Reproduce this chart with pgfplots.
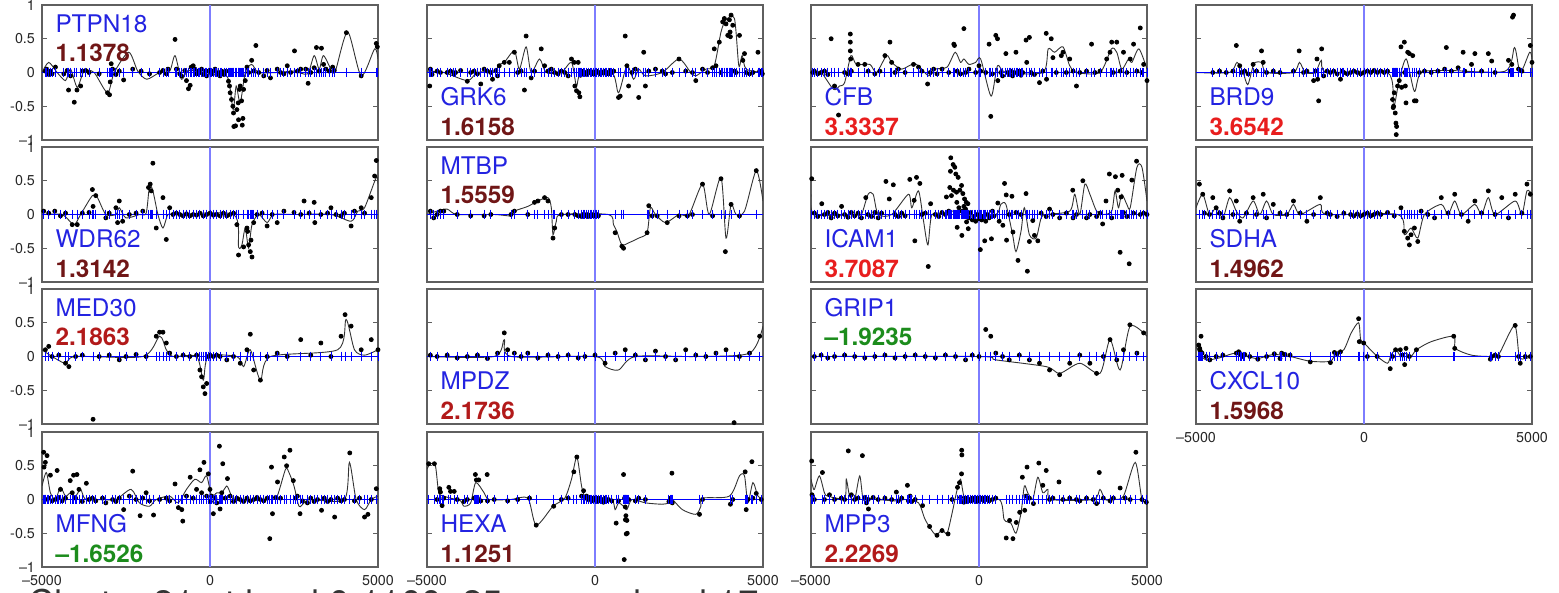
\documentclass[border=0pt]{standalone}
\usepackage{fontspec}
\setmainfont{TeX Gyre Heros}
\usepackage{pgfplots}
\usepackage{pgfplotstable}
\pgfplotsset{compat=1.18}

\definecolor{gname}{RGB}{35,35,225}
\definecolor{vdark}{RGB}{112,22,22}
\definecolor{vmid}{RGB}{178,26,26}
\definecolor{vbright}{RGB}{232,30,30}
\definecolor{vgreen}{RGB}{28,140,28}
\definecolor{frame}{RGB}{95,95,95}
\definecolor{zline}{RGB}{125,125,255}

% ---------- data (dots) and smoothed curves ----------
\pgfplotstableread[row sep=\\]{x y\\
-4900 0.02\\-4860 0.05\\-4800 -0.03\\-4750 0.02\\-4700 -0.02\\-4600 0.08\\-4350 -0.02\\-4250 0.03\\-4210 -0.26\\-4150 -0.05\\-4040 -0.44\\-3960 -0.26\\-3850 -0.2\\-3800 0.02\\-3700 0.03\\-3600 0.0\\-3300 -0.02\\-3050 -0.3\\-2990 -0.33\\-2970 -0.14\\-2940 0.13\\-2900 0.05\\-2800 -0.03\\-2700 0.02\\-2570 -0.11\\-2300 0.05\\-2050 0.02\\-1800 -0.02\\-1500 0.0\\-1400 0.03\\-1300 -0.02\\-1250 0.05\\-1040 0.49\\-1000 0.05\\-900 -0.02\\-850 -0.05\\-750 0.03\\-700 -0.12\\-640 -0.24\\-590 -0.19\\-560 0.08\\-500 0.1\\-450 0.05\\-400 -0.02\\-350 0.02\\-300 0.0\\-250 0.05\\-200 -0.03\\-150 0.02\\-100 -0.05\\-50 0.02\\0 0.03\\50 -0.02\\100 0.02\\150 0.05\\200 -0.03\\250 0.0\\300 -0.05\\350 0.02\\420 -0.03\\480 0.02\\550 -0.13\\580 -0.2\\600 -0.3\\640 -0.4\\680 -0.5\\700 -0.6\\710 -0.8\\760 -0.79\\800 -0.55\\840 -0.45\\850 -0.7\\880 -0.25\\900 -0.2\\940 -0.42\\960 -0.78\\980 -0.68\\1000 -0.25\\1050 -0.12\\1100 0.08\\1150 0.0\\1240 0.18\\1300 0.02\\1366 0.40\\1450 0.0\\1600 -0.05\\1700 0.03\\1800 -0.08\\2000 0.05\\2100 0.0\\2200 -0.02\\2300 0.1\\2400 0.0\\2515 0.32\\2600 0.02\\2700 0.05\\2850 0.05\\2920 -0.16\\3000 0.0\\3100 0.07\\3168 0.37\\3250 0.02\\3317 0.36\\3380 0.12\\3450 0.05\\3550 0.02\\3650 0.08\\3700 0.03\\4059 0.59\\4500 -0.05\\4950 0.43\\4980 0.38\\
}\dA
\pgfplotstableread[row sep=\\]{x y\\
-5000 0.0\\-4800 0.15\\-4550 0.0\\-4300 -0.12\\-4150 0.05\\-3950 -0.22\\-3750 0.02\\-3450 0.0\\-3050 -0.3\\-2850 0.0\\-2420 0.3\\-2150 0.02\\-1880 -0.1\\-1500 0.0\\-1200 0.02\\-1040 0.25\\-850 -0.1\\-650 0.03\\-200 0.0\\300 0.0\\550 -0.1\\690 -0.55\\780 -0.2\\900 -0.45\\1050 0.0\\1240 0.12\\1450 0.0\\2000 0.0\\2500 0.02\\2900 -0.02\\3100 0.25\\3250 0.05\\3380 0.25\\3650 0.0\\3750 0.05\\4100 0.6\\4500 -0.05\\4900 0.35\\5000 0.2\\
}\cA

\pgfplotstableread[row sep=\\]{x y\\
-4920 -0.2\\-4900 0.05\\-4850 -0.03\\-4700 0.02\\-4600 0.0\\-4400 0.0\\-4300 0.02\\-4200 -0.02\\-4150 0.0\\-4000 0.03\\-3800 -0.13\\-3700 0.0\\-3600 0.02\\-3500 -0.02\\-3400 -0.17\\-3300 0.05\\-3200 0.02\\-3100 0.0\\-3050 -0.1\\-2950 0.03\\-2900 -0.05\\-2850 0.1\\-2700 0.15\\-2550 0.15\\-2400 0.3\\-2300 0.0\\-2200 0.02\\-2100 -0.26\\-2050 0.54\\-1900 -0.08\\-1800 0.02\\-1600 0.35\\-1500 0.1\\-1400 0.02\\-1300 0.05\\-1200 0.0\\-1100 -0.02\\-1000 0.02\\-900 0.0\\-800 -0.05\\-700 0.2\\-620 0.15\\-600 -0.2\\-550 -0.27\\-500 0.15\\-480 -0.3\\-450 -0.36\\-430 -0.04\\-400 0.02\\-350 -0.02\\-300 0.0\\-250 -0.03\\-200 0.02\\-150 0.0\\-100 -0.02\\-50 0.01\\0 -0.02\\50 0.02\\100 0.0\\150 -0.02\\200 0.01\\250 -0.01\\300 0.02\\350 0.0\\400 -0.02\\450 0.03\\500 0.0\\560 0.02\\700 -0.37\\750 -0.35\\900 0.54\\950 0.1\\1000 -0.2\\1100 0.0\\1200 0.05\\1300 -0.37\\1450 0.3\\1500 -0.2\\1600 0.02\\1800 0.05\\2000 0.02\\2100 -0.02\\2300 0.0\\2500 0.2\\2700 0.02\\2900 0.0\\3000 -0.12\\3200 0.05\\3350 0.0\\3500 0.07\\3550 0.35\\3600 0.1\\3700 0.45\\3750 0.0\\3800 0.75\\3850 0.8\\3900 0.72\\3950 0.55\\4000 0.78\\4020 0.6\\4030 0.53\\4050 0.85\\4100 0.7\\4150 0.02\\4200 0.0\\4300 0.55\\4400 0.18\\4450 0.28\\4500 0.0\\4600 -0.02\\4700 0.0\\4850 0.3\\4900 0.02\\4950 0.02\\4980 -0.02\\
}\dB
\pgfplotstableread[row sep=\\]{x y\\
-5000 0.02\\-4500 0.0\\-3800 -0.12\\-3500 0.0\\-3000 0.02\\-2850 0.12\\-2700 0.15\\-2400 0.32\\-2250 0.05\\-2050 0.38\\-1900 0.0\\-1650 0.2\\-1450 0.0\\-1000 0.0\\-700 0.15\\-550 -0.2\\-400 0.0\\500 0.0\\700 -0.3\\950 0.1\\1150 -0.1\\1300 0.05\\1500 -0.05\\2000 0.0\\2500 0.2\\2850 0.0\\3000 -0.05\\3300 0.05\\3550 0.1\\3750 0.6\\3900 0.78\\4150 0.8\\4280 0.1\\4380 0.25\\4500 0.05\\5000 0.0\\
}\cB

\pgfplotstableread[row sep=\\]{x y\\
-4950 0.0\\-4900 0.02\\-4800 -0.02\\-4700 0.0\\-4600 0.02\\-4500 -0.03\\-4400 0.5\\-4300 -0.2\\-4180 -0.63\\-4000 0.0\\-3900 -0.02\\-3830 0.57\\-3830 0.45\\-3830 0.32\\-3820 0.2\\-3800 0.02\\-3600 0.12\\-3400 0.12\\-3300 0.02\\-3100 -0.02\\-2950 0.02\\-2800 0.25\\-2650 0.45\\-2600 0.15\\-2500 0.0\\-2400 0.05\\-2200 0.0\\-1950 0.12\\-1800 0.08\\-1700 0.02\\-1530 -0.17\\-1450 0.0\\-1350 0.05\\-1250 -0.02\\-1100 0.05\\-900 0.0\\-750 0.42\\-730 0.4\\-650 0.02\\-550 -0.02\\-450 0.65\\-400 0.0\\-300 0.05\\-100 0.0\\0 0.1\\50 0.02\\200 0.0\\300 0.42\\350 -0.65\\400 -0.02\\500 0.55\\550 0.5\\560 -0.12\\650 0.0\\700 -0.05\\800 0.28\\850 0.0\\900 -0.03\\950 0.02\\1000 -0.05\\1050 0.0\\1100 0.3\\1150 -0.02\\1200 0.02\\1250 -0.04\\1300 0.0\\1400 0.48\\1420 0.15\\1500 0.52\\1550 0.0\\1650 -0.03\\1800 -0.15\\1900 0.02\\2000 0.58\\2010 -0.1\\2150 0.5\\2200 0.22\\2300 0.0\\2450 0.25\\2500 0.3\\2600 0.0\\2700 0.2\\2800 0.02\\2900 -0.2\\3000 0.0\\3200 0.02\\3350 0.42\\3450 0.0\\3600 0.02\\3800 0.2\\3900 0.3\\3950 0.45\\4000 0.0\\4100 0.45\\4200 0.02\\4300 0.3\\4400 0.0\\4500 0.2\\4600 0.42\\4700 0.02\\4800 0.66\\4850 0.0\\4900 0.12\\5000 -0.12\\
}\dC
\pgfplotstableread[row sep=\\]{x y\\
-5000 0.0\\-4700 0.0\\-4330 -0.25\\-4150 -0.2\\-4000 -0.15\\-3810 0.25\\-3650 0.12\\-3250 0.12\\-3050 0.0\\-2750 0.25\\-2600 0.15\\-2300 0.05\\-1900 0.13\\-1500 -0.05\\-1300 0.05\\-950 0.08\\-710 0.3\\-550 0.15\\-450 0.2\\-300 0.12\\-100 0.15\\50 0.2\\360 -0.35\\550 0.1\\800 0.0\\1900 0.0\\2060 0.35\\2250 0.3\\2500 0.38\\2700 0.1\\2900 0.0\\3600 0.0\\3940 0.35\\4100 0.3\\4250 0.05\\4450 0.2\\4550 0.15\\4760 0.35\\5000 0.05\\
}\cC

\pgfplotstableread[row sep=\\]{x y\\
-4500 0.0\\-4300 0.02\\-4100 0.0\\-3900 0.02\\-3800 0.4\\-3700 0.1\\-3650 0.0\\-3550 0.02\\-3450 -0.02\\-3300 0.12\\-3200 0.02\\-3050 0.32\\-3000 0.15\\-2900 0.0\\-2700 0.02\\-2500 0.0\\-2100 0.02\\-1930 0.32\\-1800 0.0\\-1700 0.02\\-1500 -0.12\\-1450 0.02\\-1400 0.2\\-1380 -0.1\\-1350 -0.42\\-1260 0.35\\-1200 -0.05\\-1100 0.02\\-1000 0.0\\-900 0.02\\-800 -0.02\\-700 -0.1\\-650 0.02\\-600 0.0\\-500 -0.02\\-400 0.0\\-300 0.02\\-200 0.0\\-100 -0.02\\0 0.0\\100 0.02\\200 0.0\\300 0.03\\400 0.0\\500 0.02\\600 0.0\\700 0.02\\850 -0.4\\870 -0.52\\880 -0.5\\900 -0.3\\930 -0.6\\950 -0.75\\960 -0.92\\970 -0.8\\1000 -0.2\\1050 -0.12\\1100 0.38\\1120 -0.22\\1200 0.45\\1210 0.0\\1230 -0.2\\1250 -0.45\\1300 0.3\\1350 0.28\\1450 0.25\\1500 -0.42\\1550 -0.42\\1650 0.0\\1800 0.02\\2000 0.0\\2200 0.02\\2400 0.05\\2450 0.37\\2600 0.02\\2800 0.07\\2950 0.3\\3000 0.02\\3200 0.12\\3300 0.28\\3500 0.02\\3700 0.28\\3800 0.17\\3900 0.0\\4300 0.18\\4350 0.02\\4400 0.12\\4420 0.82\\4450 0.85\\4600 0.05\\4700 0.02\\4950 0.4\\5000 0.15\\
}\dD
\pgfplotstableread[row sep=\\]{x y\\
-5000 0.0\\-4000 0.0\\-3780 0.15\\-3600 0.0\\-3460 -0.18\\-3300 0.1\\-3230 0.15\\-3050 0.15\\-2900 0.0\\-2100 0.0\\-1920 0.15\\-1750 0.0\\-1450 0.0\\-1270 0.18\\-1100 0.0\\700 0.0\\880 -0.5\\1050 -0.1\\1260 0.2\\1500 -0.28\\1700 0.0\\2500 0.03\\4200 0.02\\4480 0.37\\4650 0.0\\4930 0.3\\5000 0.2\\
}\cD

\pgfplotstableread[row sep=\\]{x y\\
-4950 0.05\\-4800 0.02\\-4620 0.05\\-4450 -0.02\\-4300 0.02\\-4100 -0.15\\-3950 -0.15\\-3800 0.02\\-3600 0.03\\-3500 0.37\\-3480 0.12\\-3400 0.28\\-3100 -0.05\\-3000 0.02\\-2800 0.1\\-2750 -0.12\\-2700 0.2\\-2600 -0.1\\-2400 0.0\\-2200 0.02\\-2000 0.05\\-1830 0.4\\-1780 0.45\\-1750 0.35\\-1700 0.76\\-1600 -0.2\\-1400 0.25\\-1300 -0.37\\-1200 0.1\\-1100 0.0\\-1000 0.02\\-900 0.0\\-800 -0.02\\-700 0.01\\-600 -0.02\\-500 0.0\\-400 -0.01\\-300 0.02\\-200 -0.02\\-100 0.0\\0 0.02\\100 -0.01\\200 0.0\\300 -0.02\\400 0.02\\500 -0.02\\600 0.0\\700 0.02\\800 -0.15\\850 -0.6\\1000 -0.48\\1100 -0.2\\1120 -0.25\\1150 -0.45\\1200 -0.55\\1220 -0.38\\1250 -0.63\\1300 -0.12\\1400 0.0\\1550 0.02\\1700 -0.17\\1850 0.0\\2000 -0.12\\2200 0.05\\2500 0.03\\2700 0.0\\2800 0.2\\2950 0.02\\3100 0.18\\3120 -0.12\\3300 0.0\\3500 0.02\\3600 0.1\\3750 0.0\\3900 -0.02\\4000 0.02\\4200 -0.17\\4300 0.05\\4500 0.1\\4600 0.02\\4800 0.25\\4900 0.57\\4950 0.8\\
}\dE
\pgfplotstableread[row sep=\\]{x y\\
-5000 0.0\\-4400 0.0\\-4050 -0.15\\-3850 0.0\\-3500 0.28\\-3350 0.25\\-3100 0.0\\-2800 0.0\\-2700 0.1\\-2500 -0.05\\-2100 0.0\\-1900 0.02\\-1800 0.42\\-1700 0.35\\-1550 0.0\\-1400 -0.2\\-1250 0.0\\-1000 0.0\\700 0.0\\850 -0.48\\950 -0.45\\1050 -0.2\\1150 -0.5\\1250 -0.15\\1450 0.0\\1700 -0.12\\1900 0.0\\2500 0.0\\3600 0.0\\4200 -0.1\\4400 0.05\\4600 0.1\\4950 0.55\\5000 0.45\\
}\cE

\pgfplotstableread[row sep=\\]{x y\\
-4900 0.05\\-4800 -0.05\\-4700 0.0\\-4600 0.05\\-4500 0.05\\-4100 0.0\\-3700 -0.02\\-3300 -0.02\\-3100 0.0\\-2500 0.0\\-2400 0.05\\-2000 0.0\\-1800 0.18\\-1700 0.2\\-1500 0.25\\-1400 0.2\\-1250 -0.35\\-1200 -0.2\\-1000 0.0\\-800 0.0\\-600 0.0\\-500 -0.02\\-400 -0.03\\-350 0.0\\-300 -0.02\\-250 0.0\\-200 -0.03\\-150 -0.01\\-100 0.0\\-50 -0.02\\0 -0.01\\50 0.0\\100 -0.02\\600 -0.27\\800 -0.47\\850 -0.5\\1550 -0.27\\1600 0.13\\1700 -0.02\\1850 -0.02\\2150 -0.12\\2500 -0.02\\2750 -0.02\\2900 0.0\\3200 0.45\\3500 -0.02\\3750 0.53\\3880 -0.55\\4050 0.15\\4300 -0.02\\4800 0.65\\
}\dF
\pgfplotstableread[row sep=\\]{x y\\
-5000 0.0\\-4700 0.05\\-4400 0.08\\-4100 0.0\\-3000 0.0\\-2500 -0.02\\-2400 0.05\\-2000 0.12\\-1700 0.2\\-1400 0.25\\-1300 0.1\\-1250 -0.3\\-1150 -0.1\\-1000 0.0\\400 0.0\\550 -0.15\\650 -0.25\\800 -0.45\\1000 -0.42\\1300 -0.35\\1550 -0.27\\1650 0.1\\1800 0.0\\2100 -0.12\\2500 0.0\\2800 0.0\\3200 0.45\\3400 0.0\\3750 0.55\\3900 -0.35\\4050 0.15\\4200 0.0\\4450 0.05\\4800 0.65\\5000 0.2\\
}\cF

\pgfplotstableread[row sep=\\]{x y\\
-4980 0.53\\-4900 0.02\\-4800 -0.03\\-4680 0.16\\-4600 0.0\\-4500 0.03\\-4400 -0.05\\-4300 0.02\\-4200 -0.02\\-4090 0.12\\-4000 0.0\\-3900 -0.04\\-3800 0.03\\-3700 -0.02\\-3600 0.02\\-3500 -0.05\\-3370 0.25\\-3300 0.0\\-3200 -0.03\\-3100 0.03\\-3000 -0.05\\-2900 0.02\\-2770 0.49\\-2670 0.23\\-2550 0.44\\-2500 0.0\\-2400 -0.03\\-2300 0.02\\-2200 -0.02\\-2060 0.52\\-1930 0.21\\-1910 -0.39\\-1860 0.55\\-1760 0.46\\-1700 0.0\\-1600 0.02\\-1510 -0.77\\-1440 0.16\\-1300 0.0\\-1200 -0.03\\-1100 0.03\\-1000 0.0\\-970 0.26\\-900 0.05\\-870 0.4\\-850 0.64\\-840 0.84\\-820 0.28\\-770 0.74\\-760 0.36\\-720 0.7\\-690 0.6\\-670 0.33\\-660 0.18\\-650 -0.19\\-620 0.55\\-600 0.1\\-570 0.36\\-520 0.43\\-510 -0.31\\-500 0.05\\-480 0.31\\-450 0.12\\-430 0.23\\-400 0.08\\-380 0.18\\-370 -0.11\\-350 0.02\\-330 0.16\\-320 -0.21\\-300 -0.05\\-250 0.03\\-200 -0.08\\-150 -0.03\\-100 -0.1\\-50 0.0\\0 -0.06\\40 -0.52\\80 -0.08\\120 -0.03\\170 -0.39\\200 -0.1\\250 0.0\\300 -0.05\\370 -0.36\\400 0.05\\450 -0.02\\560 0.17\\600 -0.1\\710 -0.16\\760 0.46\\810 0.29\\820 -0.38\\900 0.0\\980 0.27\\1010 -0.26\\1100 0.03\\1160 -0.68\\1250 0.0\\1400 0.31\\1440 -0.84\\1500 -0.4\\1600 -0.09\\1650 -0.31\\1750 -0.39\\1850 0.02\\2000 -0.03\\2100 0.08\\2200 0.0\\2400 -0.05\\2600 0.02\\2790 0.36\\2800 -0.05\\2900 0.0\\3090 0.5\\3200 -0.05\\3300 0.0\\3500 -0.03\\3600 0.02\\3680 -0.14\\3780 0.2\\3880 0.6\\3950 -0.05\\4060 0.56\\4130 0.36\\4200 -0.56\\4230 0.26\\4260 0.58\\4300 0.03\\4400 -0.03\\4470 -0.73\\4550 0.51\\4600 0.02\\4690 0.79\\4800 0.0\\4900 0.02\\5000 0.0\\
}\dG
\pgfplotstableread[row sep=\\]{x y\\
-5000 0.3\\-4900 0.0\\-3700 0.0\\-3500 0.0\\-3300 0.3\\-3150 0.3\\-3000 0.0\\-2600 0.0\\-2100 0.3\\-2000 0.1\\-1800 0.35\\-1650 -0.1\\-1520 -0.45\\-1400 0.0\\-1000 0.0\\-800 0.05\\-500 0.02\\-300 -0.02\\500 0.0\\650 0.15\\800 0.15\\1000 -0.3\\1100 -0.55\\1250 -0.25\\1350 0.1\\1500 -0.3\\1700 -0.35\\1850 -0.05\\2000 0.0\\2700 0.05\\2850 0.3\\3000 0.0\\3150 0.45\\3300 0.3\\3500 0.05\\3700 0.0\\3950 0.05\\4050 0.35\\4150 0.1\\4250 0.3\\4400 0.15\\4500 0.1\\4700 0.7\\4850 0.7\\5000 0.2\\
}\cG

\pgfplotstableread[row sep=\\]{x y\\
-4900 0.45\\-4800 0.3\\-4750 0.02\\-4600 0.0\\-4500 0.25\\-4400 0.1\\-4300 0.02\\-4200 -0.05\\-4000 0.35\\-3900 0.0\\-3800 0.2\\-3700 -0.1\\-3500 0.02\\-3300 0.25\\-3200 0.0\\-3000 0.3\\-2900 -0.05\\-2700 0.15\\-2500 0.02\\-2300 0.0\\-2100 0.2\\-1900 0.02\\-1700 -0.1\\-1500 0.0\\-1300 0.25\\-1100 0.02\\-1000 0.0\\-800 -0.03\\-600 0.02\\-400 0.0\\-300 -0.02\\-200 0.01\\-100 -0.02\\0 0.0\\100 0.02\\200 -0.02\\300 0.0\\400 0.02\\500 0.0\\700 0.03\\900 -0.02\\1100 0.1\\1200 -0.25\\1300 -0.35\\1350 -0.45\\1400 -0.3\\1500 -0.2\\1600 -0.4\\1700 0.05\\1900 0.0\\2100 -0.05\\2300 0.25\\2500 0.02\\2700 0.3\\2900 0.0\\3100 -0.1\\3300 0.2\\3500 0.02\\3700 0.35\\3900 0.0\\4100 0.25\\4300 -0.05\\4500 0.3\\4700 0.02\\4850 0.45\\4950 0.3\\
}\dH
\pgfplotstableread[row sep=\\]{x y\\
-5000 0.1\\-4800 0.3\\-4600 0.0\\-4400 0.1\\-4200 -0.05\\-4000 0.25\\-3800 0.05\\-3600 -0.05\\-3300 0.2\\-3100 0.0\\-2900 0.2\\-2700 0.0\\-2300 0.0\\-2100 0.15\\-1900 0.0\\-1300 0.15\\-1100 0.0\\1000 0.0\\1200 -0.3\\1400 -0.2\\1600 -0.35\\1800 0.0\\2300 0.15\\2500 0.0\\2700 0.2\\2900 0.0\\3300 0.15\\3500 0.0\\3700 0.25\\3900 0.0\\4500 0.2\\4700 0.0\\4850 0.35\\5000 0.3\\
}\cH

\pgfplotstableread[row sep=\\]{x y\\
-4900 0.1\\-4800 0.15\\-4700 0.0\\-4500 0.02\\-4300 -0.1\\-4200 -0.15\\-4000 0.0\\-3800 0.02\\-3480 -0.93\\-3300 0.0\\-3000 0.02\\-2700 -0.05\\-2500 0.0\\-2200 0.03\\-1900 0.0\\-1600 0.3\\-1500 0.36\\-1400 0.36\\-1300 0.2\\-1200 0.05\\-1000 0.0\\-800 0.02\\-600 0.0\\-400 0.02\\-300 -0.2\\-250 -0.3\\-200 -0.45\\-150 -0.55\\-100 -0.4\\-50 0.0\\0 0.02\\100 0.0\\200 0.02\\300 0.0\\500 -0.05\\700 0.0\\900 -0.1\\1100 0.1\\1200 0.33\\1300 -0.2\\1500 -0.35\\1700 0.0\\2000 0.05\\2300 0.0\\2700 0.25\\3000 0.02\\3300 0.2\\3600 0.0\\3900 0.3\\4020 0.62\\4200 0.45\\4500 0.1\\4800 0.25\\5000 0.1\\
}\dI
\pgfplotstableread[row sep=\\]{x y\\
-5000 0.1\\-4700 0.0\\-4300 -0.1\\-4000 0.0\\-2000 0.0\\-1500 0.3\\-1300 0.1\\-1100 0.0\\-400 0.0\\-200 -0.35\\-50 0.0\\800 0.0\\1000 -0.15\\1200 0.1\\1500 -0.35\\1800 0.0\\3800 0.1\\4050 0.55\\4300 0.1\\4600 0.02\\5000 0.1\\
}\cI

\pgfplotstableread[row sep=\\]{x y\\
-4900 0.02\\-4700 0.0\\-4400 0.02\\-4100 -0.02\\-3800 0.0\\-3500 0.02\\-3200 -0.03\\-2900 0.05\\-2700 0.35\\-2600 0.1\\-2400 0.05\\-2200 0.0\\-2000 0.05\\-1700 -0.02\\-1400 0.02\\-1100 0.0\\-800 0.02\\-500 -0.02\\-300 0.0\\0 0.02\\300 -0.1\\600 0.05\\900 0.1\\1200 0.02\\1500 -0.05\\1800 0.08\\2100 0.0\\2400 -0.05\\2700 0.1\\3000 0.02\\3300 0.0\\3600 0.05\\3900 0.1\\4140 -0.98\\4300 0.0\\4600 0.05\\4900 0.3\\
}\dJ
\pgfplotstableread[row sep=\\]{x y\\
-5000 0.0\\-3000 0.0\\-2700 0.25\\-2500 0.0\\0 0.0\\300 -0.15\\700 -0.2\\1200 0.0\\3000 0.0\\4600 0.05\\5000 0.45\\
}\cJ

\pgfplotstableread[row sep=\\]{x y\\
-4900 0.0\\-4700 0.02\\-4500 -0.02\\-4300 0.0\\-4000 0.02\\-3700 0.0\\-3400 -0.02\\-3100 0.0\\-2800 0.02\\-2500 -0.02\\-2200 0.0\\-1900 0.02\\-1600 0.0\\-1300 -0.02\\-1000 0.02\\-700 0.0\\-400 -0.05\\-200 0.02\\0 0.0\\200 0.4\\350 0.3\\500 0.05\\700 0.0\\900 -0.05\\1200 0.02\\1500 -0.05\\1800 -0.1\\2100 -0.2\\2400 -0.27\\2700 -0.1\\3000 0.02\\3300 -0.1\\3500 -0.25\\3700 0.0\\3900 0.25\\4100 -0.05\\4300 0.1\\4490 0.47\\4700 0.05\\4900 0.35\\
}\dK
\pgfplotstableread[row sep=\\]{x y\\
-5000 0.0\\0 0.0\\500 -0.05\\2000 -0.15\\2400 -0.25\\3000 -0.1\\3600 -0.25\\3900 0.25\\4200 -0.2\\4500 0.45\\5000 0.3\\
}\cK

\pgfplotstableread[row sep=\\]{x y\\
-4920 0.17\\-4890 0.12\\-4850 0.3\\-4870 0.08\\-4820 0.05\\-4700 0.0\\-4590 -0.05\\-4400 0.0\\-4200 0.02\\-3800 0.05\\-3730 0.07\\-3680 0.04\\-3650 0.02\\-3600 0.0\\-3550 0.03\\-3400 0.0\\-3160 -0.04\\-2900 0.0\\-2670 0.04\\-2500 -0.03\\-2450 0.05\\-2350 0.03\\-2200 0.02\\-1600 -0.08\\-1000 -0.09\\-880 0.06\\-800 0.04\\-700 0.07\\-160 0.56\\-140 0.22\\-10 0.2\\100 0.0\\390 0.0\\780 -0.18\\850 0.0\\940 0.1\\1080 0.1\\1150 0.02\\1210 -0.12\\1250 0.12\\1350 0.0\\1560 0.1\\2670 0.3\\2700 0.12\\3760 -0.04\\3800 0.0\\3900 0.02\\4000 0.0\\4500 0.46\\4600 0.0\\4650 -0.1\\4800 0.0\\4950 0.0\\
}\dL
\pgfplotstableread[row sep=\\]{x y\\
-5000 0.15\\-4900 0.05\\-4700 -0.05\\-4300 -0.02\\-3800 0.05\\-3200 -0.03\\-2700 0.03\\-2200 0.0\\-1600 -0.07\\-1000 -0.07\\-850 0.05\\-600 0.1\\-380 0.35\\-160 0.5\\-100 0.25\\0 0.2\\400 0.0\\700 -0.1\\800 0.02\\950 0.1\\1100 0.0\\1250 0.05\\1400 0.0\\1560 0.1\\2000 0.22\\2670 0.3\\2720 0.12\\3200 0.02\\3760 0.0\\4000 0.02\\4480 0.46\\4620 0.0\\4800 -0.03\\5000 0.0\\
}\cL

\pgfplotstableread[row sep=\\]{x y\\
-4950 0.7\\-4900 0.55\\-4850 0.65\\-4940 0.48\\-4900 0.0\\-4800 0.02\\-4750 0.36\\-4700 -0.02\\-4600 0.0\\-4550 0.43\\-4500 0.03\\-4450 0.15\\-4400 -0.02\\-4300 0.02\\-4160 0.28\\-4100 0.1\\-4060 0.36\\-4000 0.02\\-3960 0.37\\-3900 0.15\\-3800 -0.03\\-3680 0.24\\-3600 0.0\\-3500 0.02\\-3400 -0.02\\-3200 0.02\\-3100 -0.05\\-2900 0.0\\-2800 -0.03\\-2700 0.02\\-2570 -0.15\\-2400 0.05\\-2300 0.42\\-2200 0.0\\-2080 -0.24\\-2000 0.02\\-1900 0.1\\-1800 -0.02\\-1680 -0.23\\-1500 0.0\\-1300 0.02\\-1200 -0.02\\-1040 0.23\\-940 -0.12\\-840 -0.15\\-810 -0.32\\-700 0.05\\-590 0.33\\-500 0.02\\-400 0.15\\-300 0.44\\-250 0.1\\-180 0.55\\-100 0.05\\-50 0.38\\0 0.15\\10 -0.03\\50 0.05\\100 -0.21\\150 0.02\\200 -0.05\\280 0.79\\300 -0.14\\350 0.1\\380 0.53\\450 0.02\\520 0.31\\600 0.05\\700 -0.03\\800 0.02\\900 0.0\\1000 -0.03\\1100 0.02\\1200 -0.02\\1300 0.0\\1400 0.03\\1500 0.0\\1600 -0.02\\1700 0.02\\1780 -0.58\\1830 0.48\\1860 -0.21\\1950 0.03\\2010 0.26\\2100 0.02\\2210 0.63\\2280 0.5\\2380 0.73\\2480 0.28\\2550 0.02\\2600 0.05\\2680 -0.21\\2750 -0.02\\2900 -0.05\\3000 0.02\\3100 -0.03\\3200 0.0\\3320 -0.16\\3400 0.02\\3500 -0.03\\3600 0.0\\3710 -0.26\\3800 0.02\\3900 -0.02\\4000 0.0\\4160 0.69\\4300 -0.02\\4450 0.02\\4600 -0.26\\4700 -0.22\\4800 0.0\\4950 0.16\\
}\dM
\pgfplotstableread[row sep=\\]{x y\\
-5000 0.2\\-4870 0.4\\-4750 0.1\\-4600 0.0\\-4450 0.18\\-4300 0.05\\-4150 0.1\\-4000 0.05\\-3850 0.15\\-3700 0.0\\-3200 0.0\\-2800 0.0\\-2350 0.15\\-2100 -0.05\\-1800 -0.1\\-1600 0.0\\-1200 0.05\\-950 -0.05\\-700 0.15\\-450 0.3\\-250 0.25\\-100 0.35\\50 0.05\\200 0.1\\350 0.1\\500 0.2\\600 0.1\\700 0.0\\1000 -0.02\\1800 0.0\\2000 0.05\\2250 0.45\\2350 0.4\\2500 0.2\\2650 -0.1\\2800 -0.05\\3000 0.0\\4000 0.0\\4150 0.55\\4350 0.0\\4600 -0.15\\4800 0.0\\5000 0.05\\
}\cM

\pgfplotstableread[row sep=\\]{x y\\
-4950 0.53\\-4780 0.53\\-4700 0.0\\-4620 0.16\\-4600 0.11\\-4550 -0.09\\-4500 0.02\\-4350 0.18\\-4300 0.12\\-4190 0.12\\-4100 0.0\\-3900 -0.03\\-3800 0.0\\-3600 0.02\\-3560 0.37\\-3530 0.29\\-3500 0.02\\-3460 0.29\\-3400 -0.02\\-3210 0.37\\-3200 -0.02\\-3000 0.0\\-2600 -0.02\\-2300 0.0\\-1950 0.02\\-1750 -0.38\\-1230 -0.1\\-1000 0.0\\-800 0.02\\-630 0.41\\-540 0.63\\-400 0.05\\-340 0.13\\-300 0.02\\-250 0.05\\-200 0.0\\-150 0.03\\-100 -0.02\\-50 0.02\\0 0.0\\50 -0.03\\100 0.02\\150 -0.02\\200 0.0\\250 -0.04\\300 0.02\\350 -0.02\\400 0.0\\500 -0.02\\630 -0.35\\700 -0.02\\850 0.37\\870 -0.89\\880 0.02\\900 -0.11\\905 -0.3\\920 -0.24\\930 -0.51\\950 -0.31\\960 -0.5\\1000 0.0\\1200 -0.02\\1300 0.02\\1500 0.0\\2200 -0.03\\2250 0.02\\2290 0.39\\2300 -0.05\\3110 -0.22\\3200 0.0\\4030 -0.07\\4100 0.0\\4470 0.41\\4500 -0.15\\4550 0.0\\4670 0.56\\4700 0.02\\4800 0.09\\4950 0.0\\
}\dN
\pgfplotstableread[row sep=\\]{x y\\
-5000 0.45\\-4900 0.53\\-4750 0.5\\-4650 0.1\\-4500 0.05\\-4300 0.02\\-4000 -0.02\\-3900 -0.1\\-3700 -0.05\\-3550 0.25\\-3300 0.1\\-3150 0.0\\-2500 0.0\\-2000 0.02\\-1750 -0.38\\-1250 -0.1\\-900 0.02\\-700 0.3\\-540 0.63\\-400 0.2\\-300 0.05\\0 0.0\\500 0.0\\600 -0.15\\700 -0.05\\850 -0.1\\950 -0.15\\1100 0.0\\1500 -0.05\\2000 -0.07\\2200 -0.05\\2300 0.0\\2600 -0.15\\3000 -0.22\\3150 -0.1\\3200 0.02\\4000 0.05\\4300 0.35\\4450 0.35\\4550 -0.05\\4700 0.25\\4850 0.05\\5000 0.0\\
}\cN

\pgfplotstableread[row sep=\\]{x y\\
-4980 0.57\\-4970 0.07\\-4900 0.0\\-4660 0.4\\-4600 0.0\\-4450 0.07\\-4300 0.0\\-4100 0.02\\-4000 0.0\\-3890 0.72\\-3800 0.07\\-3700 0.0\\-3600 0.02\\-3470 0.65\\-3400 0.03\\-3350 -0.05\\-3300 0.0\\-3290 -0.14\\-3150 0.03\\-3000 0.0\\-2800 0.02\\-2600 0.0\\-2460 0.11\\-2400 -0.02\\-2300 0.02\\-2130 0.21\\-2100 -0.02\\-2050 0.05\\-2000 -0.03\\-1900 0.0\\-1680 -0.09\\-1470 -0.4\\-1250 -0.53\\-1100 -0.46\\-920 -0.51\\-800 0.0\\-640 0.18\\-580 0.25\\-550 0.03\\-520 0.38\\-515 0.73\\-510 0.66\\-450 -0.04\\-400 0.02\\-350 -0.03\\-300 0.0\\-250 -0.02\\-200 0.02\\-150 0.0\\-100 -0.03\\-50 0.02\\0 -0.02\\50 0.0\\100 0.02\\150 -0.02\\200 0.0\\250 0.02\\300 -0.02\\400 0.0\\500 0.02\\810 -0.57\\910 -0.31\\1010 -0.58\\1110 -0.34\\1210 -0.19\\1290 0.33\\1360 -0.16\\1400 0.05\\1430 0.48\\1500 0.02\\1620 -0.06\\1780 0.54\\1900 0.21\\2000 0.43\\2100 0.0\\2200 0.02\\2380 0.26\\2500 0.0\\2700 0.02\\2900 0.0\\3000 -0.02\\3200 0.02\\3400 0.0\\3500 -0.06\\3580 0.4\\3700 0.02\\3900 -0.02\\4000 0.02\\4200 0.17\\4350 0.02\\4500 0.0\\4670 0.7\\4850 0.0\\4980 -0.04\\
}\dO
\pgfplotstableread[row sep=\\]{x y\\
-5000 0.3\\-4950 0.2\\-4900 0.15\\-4750 0.35\\-4600 0.1\\-4500 0.05\\-4000 0.02\\-3950 0.3\\-3850 0.05\\-3700 0.0\\-3550 0.35\\-3450 0.0\\-3300 0.02\\-3000 0.0\\-2500 -0.02\\-2200 0.0\\-1800 -0.05\\-1600 -0.3\\-1300 -0.52\\-1100 -0.45\\-950 -0.5\\-800 -0.2\\-650 0.15\\-550 0.3\\-450 0.05\\-300 0.0\\600 0.0\\750 -0.3\\950 -0.35\\1100 -0.5\\1250 -0.2\\1350 0.2\\1450 0.1\\1600 0.0\\1750 0.33\\1900 0.1\\2050 0.15\\2150 0.0\\3400 0.0\\3600 0.15\\3750 0.0\\4000 0.0\\4300 0.05\\4650 0.55\\4850 0.0\\5000 -0.02\\
}\cO

% ---------- styles ----------
\newcommand{\namefont}{\fontsize{12.2}{14}\selectfont}
\newcommand{\valfont}{\fontsize{12.2}{14}\selectfont\bfseries}
\pgfplotsset{
  panel/.style={anchor=north west, width=168bp, height=67.5bp, scale only axis,
    xmin=-5000, xmax=5000, ymin=-1, ymax=1,
    xtick={-5000,0,5000}, ytick={-1,-0.5,0,0.5,1},
    xticklabels={,,}, yticklabels={,,,,},
    tick align=inside, major tick length=2.5bp,
    axis line style={frame, line width=0.75bp},
    tick style={frame, line width=0.5bp},
    every tick label/.append style={font=\fontsize{7.2}{8.5}\selectfont, text=black!85},
    xticklabel style={yshift=-0.5bp},
    clip=true},
  ylab/.style={yticklabels={\textendash1,-0.5,0,0.5,1}},
  xlab/.style={xticklabels={\textendash5000,0,5000}},
  curvestyle/.style={black!80, line width=0.45bp, smooth, tension=0.45, no markers},
  dotstyle/.style={only marks, mark=*, mark size=1bp, black, mark options={draw=black, fill=black}},
  rugstyle/.style={only marks, mark=|, mark size=2.4bp, blue, mark options={line width=0.45bp}},
}
\newcommand{\base}[2]{%
  \addplot[zline, line width=0.7bp] coordinates {(0,-1) (0,1)};
  \addplot[curvestyle] table[x=x,y=y] {#2};
  \addplot[dotstyle] table[x=x,y=y] {#1};
  \addplot[blue, line width=0.9bp] coordinates {(-5000,0) (5000,0)};
  \addplot[rugstyle] table[x=x, y expr=0] {#1};}
\newcommand{\lab}[5]{%
  \node[anchor=base west, inner sep=0pt, text=gname, font=\namefont] at (rel axis cs:0.039,#1) {#3};
  \node[anchor=base west, inner sep=0pt, text=#5, font=\valfont] at (rel axis cs:0.039,#2) {#4};}
\newcommand{\labT}[3]{\lab{0.80}{0.578}{#1}{#2}{#3}}
\newcommand{\labB}[3]{\lab{0.255}{0.033}{#1}{#2}{#3}}

\begin{document}
\begin{tikzpicture}
% row 1
\begin{axis}[panel, ylab, at={(21bp,-2.5bp)}]
\base{\dA}{\cA}\labT{PTPN18}{1.1378}{vdark}
\end{axis}
\begin{axis}[panel, at={(213.5bp,-2.5bp)}]
\base{\dB}{\cB}\labB{GRK6}{1.6158}{vdark}
\end{axis}
\begin{axis}[panel, at={(405.5bp,-2.5bp)}]
\base{\dC}{\cC}\labB{CFB}{3.3337}{vbright}
\end{axis}
\begin{axis}[panel, at={(598bp,-2.5bp)}]
\base{\dD}{\cD}\labB{BRD9}{3.6542}{vbright}
\end{axis}
% row 2
\begin{axis}[panel, ylab, at={(21bp,-73.5bp)}]
\base{\dE}{\cE}\labB{WDR62}{1.3142}{vdark}
\end{axis}
\begin{axis}[panel, at={(213.5bp,-73.5bp)}]
\base{\dF}{\cF}\labT{MTBP}{1.5559}{vdark}
\end{axis}
\begin{axis}[panel, at={(405.5bp,-73.5bp)}]
\base{\dG}{\cG}\labB{ICAM1}{3.7087}{vbright}
\end{axis}
\begin{axis}[panel, at={(598bp,-73.5bp)}]
\base{\dH}{\cH}\labB{SDHA}{1.4962}{vdark}
\end{axis}
% row 3
\begin{axis}[panel, ylab, at={(21bp,-144.5bp)}]
\base{\dI}{\cI}\labT{MED30}{2.1863}{vmid}
\end{axis}
\begin{axis}[panel, at={(213.5bp,-144.5bp)}]
\base{\dJ}{\cJ}\labB{MPDZ}{2.1736}{vmid}
\end{axis}
\begin{axis}[panel, at={(405.5bp,-144.5bp)}]
\base{\dK}{\cK}\labT{GRIP1}{\textendash1.9235}{vgreen}
\end{axis}
\begin{axis}[panel, xlab, at={(598bp,-144.5bp)}]
\base{\dL}{\cL}\labB{CXCL10}{1.5968}{vdark}
\end{axis}
% row 4
\begin{axis}[panel, ylab, xlab, at={(21bp,-216bp)}]
\base{\dM}{\cM}\labB{MFNG}{\textendash1.6526}{vgreen}
\end{axis}
\begin{axis}[panel, xlab, at={(213.5bp,-216bp)}]
\base{\dN}{\cN}\labB{HEXA}{1.1251}{vdark}
\end{axis}
\begin{axis}[panel, xlab, at={(405.5bp,-216bp)}]
\base{\dO}{\cO}\labB{MPP3}{2.2269}{vmid}
\end{axis}
% caption, cut off by the lower edge as in the reference
\node[anchor=north west, inner sep=0pt, font=\fontsize{18.4}{22}\selectfont, text=black!80] at (14bp,-294.3bp) {Cluster 21 at level 0.1100, 25 genes, level 17};
\pgfresetboundingbox
\useasboundingbox (0,0) rectangle (779.5bp,-296.5bp);
\end{tikzpicture}
\end{document}
